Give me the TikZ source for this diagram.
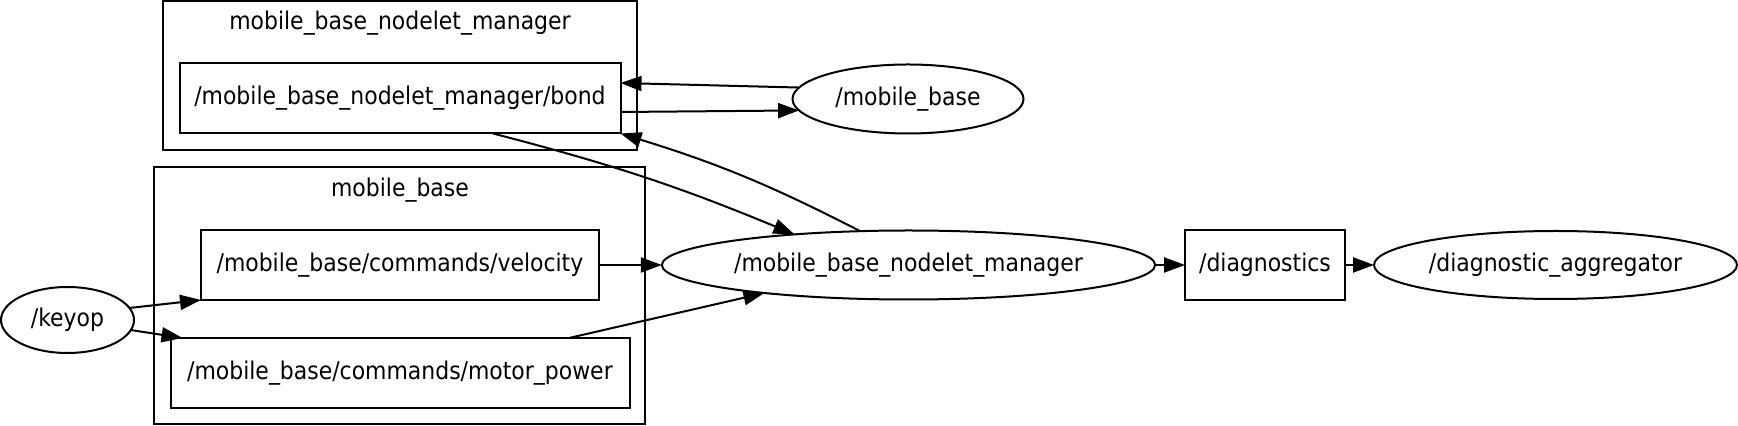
\documentclass[tikz,border=0pt]{standalone}
\usepackage{fontspec}
\setmainfont{DejaVu Sans Condensed}
\usetikzlibrary{shapes.geometric,arrows.meta}

\begin{document}
\begin{tikzpicture}[
  x=0.5pt, y=-0.5pt,
  font=\fontsize{12.2}{14}\selectfont,
  every node/.style={inner sep=0pt, outer sep=0pt},
  cluster/.style={draw, rectangle, line width=1pt},
  topic/.style={draw, rectangle, line width=1pt, minimum height=35pt},
  proc/.style={draw, ellipse, line width=1pt},
  ar/.style={-{Triangle[length=10.5pt, width=7.5pt]}, line width=1pt}
]
\useasboundingbox (0,0) rectangle (1738,426);
% clusters
\node[cluster, minimum width=237pt, minimum height=74.5pt] (mgrgroup) at (400,75.5) {};
\node (mgrlbl) at (400,23) {mobile\_base\_nodelet\_manager};
\node[cluster, minimum width=245.5pt, minimum height=128.5pt] (basegroup) at (399.5,295.5) {};
\node (baselbl) at (400,190) {mobile\_base};
% topics
\node[topic, minimum width=220.5pt] (bond) at (400,98.5) {/mobile\_base\_nodelet\_manager/bond};
\node[topic, minimum width=199pt] (vel) at (400,265) {/mobile\_base/commands/velocity};
\node[topic, minimum width=229.5pt] (motor) at (400,373) {/mobile\_base/commands/motor\_power};
\node[topic, minimum width=80pt] (diag) at (1265,265) {/diagnostics};
% nodes
\node[proc, minimum width=66.5pt, minimum height=33pt] (keyop) at (67.5,320) {/keyop};
\node[proc, minimum width=115.5pt, minimum height=34.5pt] (mb) at (908,99) {/mobile\_base};
\node[proc, minimum width=246.5pt, minimum height=34.5pt] (mgr) at (908.5,265) {/mobile\_base\_nodelet\_manager};
\node[proc, minimum width=181.5pt, minimum height=34pt] (agg) at (1555.5,265) {/diagnostic\_aggregator};
% edges
\draw[ar] (mb.174) -- ([yshift=7.75pt]bond.east);
\draw[ar] ([yshift=-6.75pt]bond.east) -- (mb.186);
\draw[ar] (mgr.145) to[bend right=5] (bond.south east);
\draw[ar] ([xshift=46.5pt]bond.south) to[bend left=4] (mgr.165);
\draw[ar] (vel.east) -- (mgr.west);
\draw[ar] ([xshift=84.5pt]motor.north) -- (mgr.191);
\draw[ar] (keyop.11) -- (vel.south west);
\draw[ar] (keyop.-9) -- ([xshift=6pt]motor.north west);
\draw[ar] (mgr.east) -- (diag.west);
\draw[ar] (diag.east) -- (agg.west);
\end{tikzpicture}
\end{document}
